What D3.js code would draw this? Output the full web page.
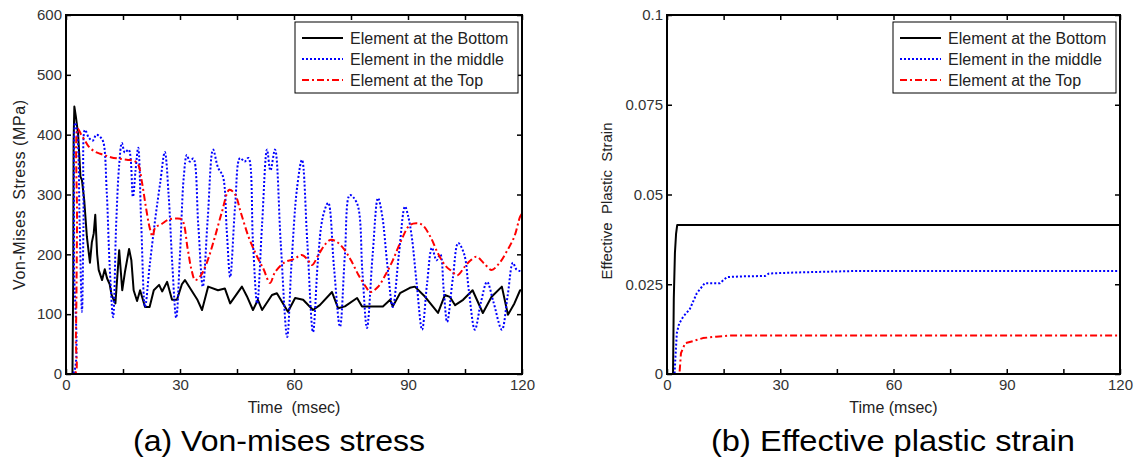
<!DOCTYPE html>
<html>
<head>
<meta charset="utf-8">
<script src="https://cdnjs.cloudflare.com/ajax/libs/d3/7.8.5/d3.min.js"></script>
<style>
  body { margin: 0; background: #fff; }
  svg { display: block; font-family: "Liberation Sans", Arial, sans-serif; }
  text { white-space: pre; }
</style>
</head>
<body>
<div id="chart"></div>
<script>
// legend / series names
var seriesNames = ["Element at the Bottom", "Element in the middle", "Element at the Top"]

// (a) von-mises stress, MPa  (time in msec)
var stressBottomT = [0,1.7,1.9,2.0,2.2,2.6,3.2,3.8,4.2,4.8,5.5,6.3,6.8,7.3,7.7,8.2,8.6,9.5,10.2,10.8,11.5,12,13,14,14.8,15.5,16.6,17.2,17.8,18.7,19.5,20.2,20.8,22,23.1,24.5,25.3,26.6,27.9,29.2,30.5,31.3,33,34.5,35.8,37.4,40,41.8,43.2,46.3,47.6,49.2,50.5,51.6,54.2,55.5,58.4,60.3,62.4,65,66.8,70,71.6,73.4,76.6,77.9,80.5,83.4,85.3,86,87.9,90.5,91.8,94.5,97.9,99.7,101,102.4,104.5,107,109.7,112,114.7,116.3,118,119.5,120]
var stressBottomV = [0,0,160,390,447,430,400,330,324,290,229,186,220,235,266,200,174,157,175,160,150,132,118,207,140,170,209,190,140,122,140,125,112,112,140,149,138,154,124,124,150,157,140,125,107,146,140,143,118,146,130,107,124,107,132,135,104,127,124,107,115,137,110,113,127,113,113,113,124,113,135,144,146,129,102,132,129,115,124,140,102,129,146,99,118,140,140]

var stressMiddleT = [0,1.8,2.1,2.4,3,3.6,4.2,4.6,5,6,7,8,9,9.8,10.7,11.5,12.4,13.2,14,14.7,15.5,16.5,17.6,18.3,19,19.8,20.8,22,23.5,24.8,26,27,28,29,30,31,31.8,32.6,33.5,34.8,36,37.3,38.7,40,41.3,42.3,43.2,44.5,45.8,47,48,49.2,50.3,51.6,52.9,53.8,55,56.5,58.2,59.3,60.8,62.1,63.5,65,66.3,67.6,69,70.5,72.1,73.4,74.7,76.6,78,79.2,80.7,82.1,83.2,84.6,86,87.6,89.2,90,91,92.3,93.7,95,96.3,97.5,98.5,99.4,100.3,101.8,103.2,104.8,106,107.6,109.2,110.8,112.5,114.7,116.2,117.6,118.5,119.5,120]
var stressMiddleV = [0,0,200,420,400,250,104,250,408,395,390,400,396,388,307,180,95,250,350,386,370,375,296,340,378,250,112,180,260,320,371,300,180,94,200,330,366,355,360,250,146,260,375,345,330,240,162,280,361,355,361,220,118,250,375,340,375,220,62,180,311,358,220,70,190,263,286,180,79,200,299,285,170,77,200,294,265,180,112,200,280,265,229,150,74,150,211,190,200,140,87,160,219,200,140,74,120,154,120,74,130,186,175,172,172]

var stressTopT = [0,2.3,2.6,2.9,3.1,4,5,6,7.5,9,10.5,12,14,16,18,19,20,21,22,22.8,23.5,25,27,29,30.5,32,33,34,35.5,37,39,41,43,44.5,46,48,50,52,53.7,55,57.6,60,62,63.5,64.7,66.5,68,69.5,71,73,75,77,79,80,82,84,86,88,90.5,92.6,94,96,98,100,101.5,103,105,106.5,108,110,112,114,116,118,119.5,120]
var stressTopV = [0,0,60,250,410,400,390,380,372,368,365,362,360,358,356,350,320,280,245,230,245,250,258,260,258,210,175,157,165,185,225,270,308,300,270,230,200,175,152,170,187,192,199,192,182,200,215,224,222,210,190,165,145,137,145,165,190,220,249,252,248,228,200,180,172,165,180,190,196,185,174,185,205,230,263,268]

// (b) effective plastic strain
var strainBottomT = [0,1.6,1.8,2.1,2.4,2.7,120]
var strainBottomV = [0,0,0.021,0.0337,0.039,0.0415,0.0415]
var strainMiddleT = [0,2.0,2.2,2.6,3.2,4.3,6,7.9,10,14,15.9,20,26,27,35,50,120]
var strainMiddleV = [0,0,0.004,0.0114,0.014,0.016,0.018,0.0225,0.0253,0.0253,0.027,0.0272,0.0273,0.028,0.0283,0.0287,0.0287]
var strainTopT = [0,3.3,3.7,4.8,7,9.5,13,16.7,120]
var strainTopV = [0,0,0.0058,0.0086,0.0092,0.0100,0.0104,0.0107,0.0107]

var timeTicks = [0,15,30,45,60,75,90,105,120]
var stressTicks = [0,100,200,300,400,500,600]
var strainTicks = [0,0.025,0.05,0.075,0.1]

var lineStyles = [
  {color: "#000", dash: null},
  {color: "#0000ff", dash: "2,2"},
  {color: "#ff0000", dash: "7,3,2,3"}
]

var W = 1140, H = 459
var svg = d3.select("#chart").append("svg")
  .attr("width", W)
  .attr("height", H)

function zip(t, v) {
  return t.map(function(d, i) { return [d, v[i]] })
}

function drawPanel(p) {
  var x = d3.scaleLinear().domain([0, 120]).range([p.left, p.right])
  var y = d3.scaleLinear().domain(p.yDomain).range([374, 15])
  var g = svg.append("g")

  var clipId = "clip" + p.id
  g.append("clipPath").attr("id", clipId)
    .append("rect")
    .attr("x", p.left).attr("y", 15)
    .attr("width", p.right - p.left).attr("height", 359)

  // axes, ticks inward
  var bottom = d3.axisBottom(x).tickValues(timeTicks).tickSizeInner(-5).tickSizeOuter(0).tickPadding(5)
    .tickFormat(function(d) { return d % 30 === 0 ? d : "" })
  var top = d3.axisTop(x).tickValues(timeTicks).tickSizeInner(-5).tickSizeOuter(0).tickFormat("")
  var left = d3.axisLeft(y).tickValues(p.yTicks).tickSizeInner(-5).tickSizeOuter(0).tickPadding(4)
    .tickFormat(p.yFormat)
  var right = d3.axisRight(y).tickValues(p.yTicks).tickSizeInner(-5).tickSizeOuter(0).tickFormat("")

  g.append("g").attr("transform", "translate(0,374)").call(bottom)
  g.append("g").attr("transform", "translate(0,15)").call(top)
  g.append("g").attr("transform", "translate(" + p.left + ",0)").call(left)
  g.append("g").attr("transform", "translate(" + p.right + ",0)").call(right)

  g.selectAll(".domain").remove()
  g.selectAll(".tick line").attr("stroke", "#000").attr("stroke-width", 1.5)
  g.selectAll(".tick text").attr("fill", "#333").style("font-size", "15px")
    .style("font-family", "'Liberation Sans', Arial, sans-serif")

  // data lines
  p.series.forEach(function(s, i) {
    var line = d3.line()
      .x(function(d) { return x(d[0]) })
      .y(function(d) { return y(d[1]) })
      .curve(p.curves[i])
    g.append("path")
      .attr("d", line(s))
      .attr("clip-path", "url(#" + clipId + ")")
      .attr("fill", "none")
      .attr("stroke", lineStyles[i].color)
      .attr("stroke-width", 2)
      .attr("stroke-dasharray", lineStyles[i].dash)
      .attr("stroke-linejoin", "round")
  })

  // plot box
  g.append("rect")
    .attr("x", p.left).attr("y", 15)
    .attr("width", p.right - p.left).attr("height", 359)
    .attr("fill", "none").attr("stroke", "#000").attr("stroke-width", 2)

  // legend
  var lg = g.append("g").attr("transform", "translate(" + p.legendX + ",22)")
  lg.append("rect").attr("width", 223).attr("height", 71)
    .attr("fill", "#fff").attr("stroke", "#000").attr("stroke-width", 1)
  seriesNames.forEach(function(name, i) {
    var yy = 16 + i * 21
    lg.append("line")
      .attr("x1", 7).attr("x2", 48).attr("y1", yy).attr("y2", yy)
      .attr("stroke", lineStyles[i].color).attr("stroke-width", 2)
      .attr("stroke-dasharray", lineStyles[i].dash)
    lg.append("text").attr("x", 55).attr("y", yy + 5.5)
      .attr("fill", "#222").style("font-size", "16px").text(name)
  })

  // axis labels
  g.append("text")
    .attr("x", (p.left + p.right) / 2).attr("y", 413)
    .attr("text-anchor", "middle").attr("fill", "#222")
    .style("font-size", "16px").text("Time" + p.timeGap + "(msec)")

  g.append("text")
    .attr("transform", "translate(" + p.yLabelX + "," + p.yLabelY + ") rotate(-90)")
    .attr("text-anchor", "middle").attr("fill", "#222")
    .attr("textLength", p.yLabelLen).attr("lengthAdjust", "spacing")
    .style("font-size", p.yLabelSize).text(p.yLabel)

  // caption, slightly wide lettering as in the figure
  g.append("text")
    .attr("x", p.captionX).attr("y", 451)
    .attr("text-anchor", "middle").attr("fill", "#000")
    .attr("textLength", p.captionLen).attr("lengthAdjust", "spacingAndGlyphs")
    .style("font-size", "29px").text(p.caption)
}

var curvy = d3.curveCatmullRom.alpha(0.5)

drawPanel({
  id: "a", left: 66, right: 522,
  yDomain: [0, 600], yTicks: stressTicks, yFormat: d3.format("d"),
  series: [zip(stressBottomT, stressBottomV), zip(stressMiddleT, stressMiddleV), zip(stressTopT, stressTopV)],
  curves: [d3.curveLinear, curvy, curvy],
  legendX: 295, yLabelX: 25, yLabelY: 195, yLabelLen: 190, yLabelSize: "16px",
  yLabel: "Von-Mises  Stress (MPa)", timeGap: "  ",
  captionX: 279, captionLen: 292, caption: "(a) Von-mises stress"
})

drawPanel({
  id: "b", left: 667, right: 1120,
  yDomain: [0, 0.1], yTicks: strainTicks, yFormat: function(d) { return d === 0 ? "0" : String(d) },
  series: [zip(strainBottomT, strainBottomV), zip(strainMiddleT, strainMiddleV), zip(strainTopT, strainTopV)],
  curves: [d3.curveLinear, d3.curveLinear, d3.curveLinear],
  legendX: 893, yLabelX: 612, yLabelY: 201, yLabelLen: 157, yLabelSize: "15px",
  yLabel: "Effective  Plastic  Strain", timeGap: " ",
  captionX: 893, captionLen: 364, caption: "(b) Effective plastic strain"
})
</script>
</body>
</html>
